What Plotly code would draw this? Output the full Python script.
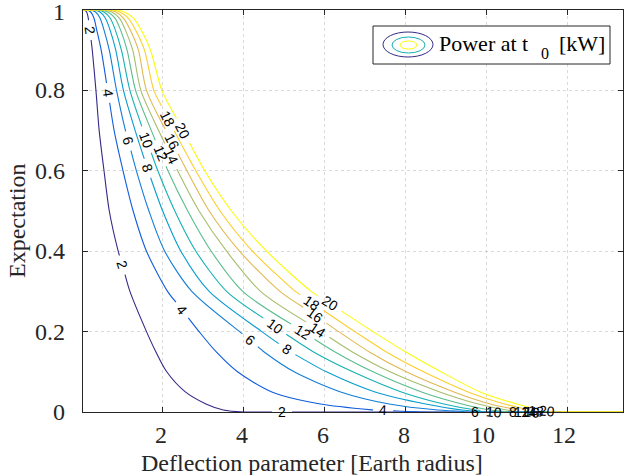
import math
import numpy as np
import plotly.graph_objects as go

# Power levels at t0 [kW] drawn as contour lines, with parula line colours
LEVELS = [2, 4, 6, 8, 10, 12, 14, 16, 18, 20]
LEVEL_COLORS = ["#352a87", "#0f5cdd", "#127dd8", "#079ccf", "#15b0b4",
                "#59bd8c", "#a5be6b", "#e1b952", "#fcce2e", "#f9fb0e"]

# Expectation values at which each contour line is sampled
EXPECTATION = [1.0, 0.995, 0.98, 0.95, 0.9, 0.8, 0.7, 0.6, 0.5, 0.4,
               0.3, 0.2, 0.15, 0.1, 0.05, 0.02, 0.005, 0.0]

# Deflection parameter [Earth radius] of each contour at those expectations
DEFL_2 = [0.06, 0.12, 0.16, 0.20, 0.26, 0.35, 0.43, 0.55, 0.68, 0.90, 1.19, 1.60, 1.83, 2.10, 2.56, 3.07, 3.50, 4.00]
DEFL_4 = [0.12, 0.22, 0.30, 0.37, 0.48, 0.64, 0.80, 1.02, 1.27, 1.60, 2.12, 2.90, 3.32, 3.85, 4.70, 5.90, 7.20, 8.40]
DEFL_6 = [0.20, 0.34, 0.45, 0.55, 0.68, 0.86, 1.08, 1.35, 1.66, 2.05, 2.72, 3.90, 4.50, 5.25, 6.40, 7.60, 8.80, 9.70]
DEFL_8 = [0.28, 0.45, 0.58, 0.70, 0.84, 1.03, 1.32, 1.64, 2.00, 2.45, 3.15, 4.45, 5.15, 6.05, 7.25, 8.50, 9.40, 10.0]
DEFL_10 = [0.36, 0.55, 0.70, 0.83, 0.98, 1.19, 1.52, 1.88, 2.30, 2.82, 3.58, 4.95, 5.72, 6.70, 7.90, 8.95, 9.75, 10.3]
DEFL_12 = [0.45, 0.64, 0.82, 0.96, 1.12, 1.33, 1.72, 2.13, 2.62, 3.20, 3.98, 5.45, 6.25, 7.20, 8.40, 9.40, 10.1, 10.6]
DEFL_14 = [0.55, 0.74, 0.93, 1.08, 1.26, 1.46, 1.90, 2.37, 2.90, 3.58, 4.42, 5.90, 6.68, 7.62, 8.85, 9.80, 10.5, 10.9]
DEFL_16 = [0.65, 0.84, 1.03, 1.20, 1.40, 1.60, 2.08, 2.60, 3.15, 3.90, 4.90, 6.35, 7.10, 8.02, 9.20, 10.1, 10.8, 11.2]
DEFL_18 = [0.76, 0.94, 1.15, 1.33, 1.55, 1.78, 2.28, 2.82, 3.42, 4.22, 5.28, 6.75, 7.52, 8.45, 9.55, 10.45, 11.05, 11.5]
DEFL_20 = [0.88, 1.05, 1.28, 1.47, 1.70, 1.98, 2.50, 3.04, 3.70, 4.57, 5.67, 7.20, 8.00, 8.88, 9.85, 10.75, 11.35, 11.9]
DEFLECTION = [DEFL_2, DEFL_4, DEFL_6, DEFL_8, DEFL_10,
              DEFL_12, DEFL_14, DEFL_16, DEFL_18, DEFL_20]

# Deflection parameter at which each inline level label sits
LABEL_AT = [
    [0.20, 1.00, 4.95],
    [0.65, 2.48, 7.45],
    [1.15, 4.16, 9.71],
    [1.62, 5.07, 10.65],
    [1.60, 4.77, 10.20],
    [1.95, 5.46, 10.88],
    [2.20, 5.83, 11.05],
    [2.22, 5.76, 11.14],
    [2.13, 5.69, 11.22],
    [2.50, 6.13, 11.50],
]

X_TICKS = [2, 4, 6, 8, 10, 12]
X_TICK_TEXT = ["2", "4", "6", "8", "10", "12"]
Y_TICKS = [0, 0.2, 0.4, 0.6, 0.8, 1]
Y_TICK_TEXT = ["0", "0.2", "0.4", "0.6", "0.8", "1"]

X_RANGE = [0.03, 13.38]
Y_RANGE = [0.0, 1.0]

# Plot-area geometry (pixels) used for label gaps and label rotation
W, H = 624, 475
M_L, M_R, M_T, M_B = 83, 1, 10, 63
PW = W - M_L - M_R
PH = H - M_T - M_B
SX = PW / (X_RANGE[1] - X_RANGE[0])
SY = PH / (Y_RANGE[1] - Y_RANGE[0])


def to_px(x, y):
    return (x - X_RANGE[0]) * SX, (Y_RANGE[1] - y) * SY


def from_px(px, py):
    return px / SX + X_RANGE[0], Y_RANGE[1] - py / SY


def cut_circle(polys, cx, cy, r):
    """Remove the parts of each pixel polyline lying inside a circle."""
    out = []
    for poly in polys:
        cur = []
        for i in range(len(poly)):
            p = poly[i]
            inside_p = (p[0] - cx) ** 2 + (p[1] - cy) ** 2 < r * r
            if i == 0:
                if not inside_p:
                    cur.append(p)
                continue
            a = poly[i - 1]
            dx, dy = p[0] - a[0], p[1] - a[1]
            fx, fy = a[0] - cx, a[1] - cy
            qa = dx * dx + dy * dy
            qb = 2 * (fx * dx + fy * dy)
            qc = fx * fx + fy * fy - r * r
            disc = qb * qb - 4 * qa * qc
            ts = []
            if qa > 0 and disc > 0:
                s = math.sqrt(disc)
                for t in ((-qb - s) / (2 * qa), (-qb + s) / (2 * qa)):
                    if 0 < t < 1:
                        ts.append(t)
            for t in ts:
                q = (a[0] + t * dx, a[1] + t * dy)
                cur.append(q)
                entering = (fx + t * dx) * dx + (fy + t * dy) * dy < 0
                if entering:
                    if len(cur) > 1:
                        out.append(cur)
                    cur = []
                else:
                    cur = [q]
            if not inside_p:
                cur.append(p)
        if len(cur) > 1:
            out.append(cur)
    return out


fig = go.Figure()
annotations = []

for lev, color, row, labs in zip(LEVELS, LEVEL_COLORS, DEFLECTION, LABEL_AT):
    xs = [X_RANGE[0]] + row + [X_RANGE[1]]
    ys = [1.0] + EXPECTATION + [0.0]
    pts = [to_px(x, y) for x, y in zip(xs, ys)]
    polys = [pts]
    r = 10 if lev < 10 else 14
    for lx in labs:
        ly = float(np.interp(lx, xs, ys))
        cx, cy = to_px(lx, ly)
        polys = cut_circle(polys, cx, cy, r)
        # rotate the label along the local direction of the line
        k = int(np.searchsorted(xs, lx))
        k = min(max(k, 1), len(xs) - 1)
        x0, y0 = to_px(xs[k - 1], ys[k - 1])
        x1, y1 = to_px(xs[k], ys[k])
        ang = math.degrees(math.atan2(y1 - y0, x1 - x0))
        if ang > 90:
            ang -= 180
        if ang < -90:
            ang += 180
        annotations.append(dict(
            x=lx, y=ly, xref="x", yref="y", text=str(lev), showarrow=False,
            textangle=ang, xanchor="center", yanchor="middle",
            font=dict(family="Liberation Sans", size=14, color="black")))
    line_x, line_y = [], []
    for poly in polys:
        for px, py in poly:
            x, y = from_px(px, py)
            line_x.append(x)
            line_y.append(y)
        line_x.append(None)
        line_y.append(None)
    fig.add_trace(go.Scatter(
        x=line_x, y=line_y, mode="lines", showlegend=False, hoverinfo="skip",
        line=dict(color=color, width=1.1, shape="spline", smoothing=0.8)))


def pxx(px):
    return (px - M_L) / PW


def pxy(py):
    return (H - M_B - py) / PH


serif = "Liberation Serif"
axis_text = "#262626"

# Tick labels, set in the serif face used by the axis titles
for v, t in zip(X_TICKS, X_TICK_TEXT):
    annotations.append(dict(
        x=v, y=pxy(435.5), xref="x", yref="paper", text=t, showarrow=False,
        xanchor="center", yanchor="middle", xshift=-1.5 if len(t) == 1 else -3.5,
        font=dict(family=serif, size=24, color=axis_text)))
for v, t in zip(Y_TICKS, Y_TICK_TEXT):
    annotations.append(dict(
        x=pxx(67), y=v, xref="paper", yref="y", text=t, showarrow=False,
        xanchor="right", yanchor="middle", yshift=-2 if v == 1 else 0,
        font=dict(family=serif, size=24, color=axis_text)))

# Legend box with the nested-contour icon
shapes = [
    dict(type="rect", xref="paper", yref="paper", x0=pxx(373), x1=pxx(610),
         y0=pxy(64), y1=pxy(26), line=dict(color=axis_text, width=1),
         fillcolor="white", layer="above"),
    dict(type="circle", xref="paper", yref="paper", x0=pxx(383), x1=pxx(433),
         y0=pxy(57), y1=pxy(32), line=dict(color=LEVEL_COLORS[0], width=1)),
    dict(type="circle", xref="paper", yref="paper", x0=pxx(392), x1=pxx(425),
         y0=pxy(53), y1=pxy(37), line=dict(color=LEVEL_COLORS[4], width=1)),
    dict(type="circle", xref="paper", yref="paper", x0=pxx(400), x1=pxx(417),
         y0=pxy(49), y1=pxy(41), line=dict(color=LEVEL_COLORS[9], width=1)),
]
annotations += [
    dict(x=pxx(437), y=pxy(43), xref="paper", yref="paper", text="Power at t",
         showarrow=False, xanchor="left", yanchor="middle",
         font=dict(family=serif, size=22, color="black")),
    dict(x=pxx(545), y=pxy(53), xref="paper", yref="paper", text="0",
         showarrow=False, xanchor="center", yanchor="middle",
         font=dict(family=serif, size=16, color="black")),
    dict(x=pxx(557), y=pxy(43), xref="paper", yref="paper", text="[kW]",
         showarrow=False, xanchor="left", yanchor="middle",
         font=dict(family=serif, size=22, color="black")),
    # axis titles
    dict(x=pxx(312), y=pxy(463), xref="paper", yref="paper",
         text="Deflection parameter [Earth radius]", showarrow=False,
         xanchor="center", yanchor="middle",
         font=dict(family=serif, size=24, color=axis_text)),
    dict(x=pxx(17), y=pxy(221), xref="paper", yref="paper",
         text="Expectation", showarrow=False, textangle=-90,
         xanchor="center", yanchor="middle",
         font=dict(family=serif, size=24, color=axis_text)),
]

axis_common = dict(
    showline=True, linecolor=axis_text, linewidth=1, mirror="allticks",
    ticks="inside", ticklen=5, tickcolor=axis_text, showticklabels=False,
    showgrid=True, gridcolor="rgba(0,0,0,0.15)", griddash="dot", gridwidth=1,
    zeroline=False,
)

fig.update_layout(
    width=W, height=H, margin=dict(l=M_L, r=M_R, t=M_T, b=M_B),
    paper_bgcolor="white", plot_bgcolor="white",
    xaxis=dict(range=X_RANGE, tickvals=X_TICKS, **axis_common),
    yaxis=dict(range=Y_RANGE, tickvals=Y_TICKS, **axis_common),
    shapes=shapes, annotations=annotations,
)

fig.write_html("out.html")
